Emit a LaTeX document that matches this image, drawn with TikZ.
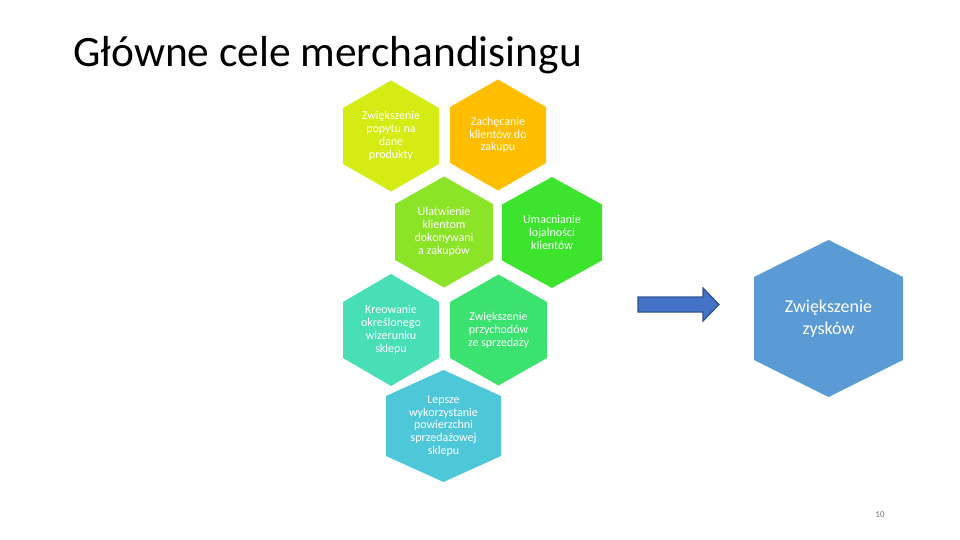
\documentclass[tikz,border=0pt]{standalone}
\usepackage{fontspec}
\setmainfont{Carlito}
\usepackage{tikz}

\definecolor{popytFill}{RGB}{212,236,20}
\definecolor{zachetaFill}{RGB}{255,190,0}
\definecolor{ulatwienieFill}{RGB}{140,228,40}
\definecolor{lojalnoscFill}{RGB}{60,228,45}
\definecolor{wizerunekFill}{RGB}{72,222,182}
\definecolor{przychodFill}{RGB}{60,226,112}
\definecolor{powierzchniaFill}{RGB}{78,200,216}
\definecolor{zyskFill}{RGB}{91,155,213}
\definecolor{arrowFill}{RGB}{68,114,196}
\definecolor{arrowLine}{RGB}{47,82,143}

\tikzset{
	hextext/.style = {text = white, align = center, inner sep = 0pt, font = \fontsize{12}{12.8}\selectfont},
	bigtext/.style = {text = white, align = center, inner sep = 0pt, font = \fontsize{18}{22}\selectfont}
}

% name, x, y, half width, half height, half side, colour, text
\newcommand{\hexcell}[8]{
	\begin{scope}[shift = {(#2,#3)}]
		\fill[#7] (0,-#5) -- (#4,-#6) -- (#4,#6) -- (0,#5) -- (-#4,#6) -- (-#4,-#6) -- cycle;
		\node[hextext] (#1) at (0,0) {#8};
	\end{scope}
}

\begin{document}
\begin{tikzpicture}[x = 1pt, y = -1pt]
					\useasboundingbox (0,0) rectangle (960,540);

					\node[anchor = base west, inner sep = 0pt, font = \fontsize{43.4}{50}\selectfont] (title) at (73,67) {Główne cele merchandisingu};

					\begin{scope}
						\hexcell{popyt}{391}{136}{48}{55.5}{28}{popytFill}{Zwiększenie\\popytu na\\dane\\produkty}
						\hexcell{zacheta}{498}{135}{48}{55.5}{28}{zachetaFill}{Zachęcanie\\klientów do\\zakupu}
						\hexcell{ulatwienie}{444}{232}{49}{55.5}{28}{ulatwienieFill}{Ułatwienie\\klientom\\dokonywani\\a zakupów}
						\hexcell{lojalnosc}{552}{232.5}{50}{55.5}{28}{lojalnoscFill}{Umacnianie\\lojalności\\klientów}
						\hexcell{wizerunek}{391}{330}{48}{56}{28}{wizerunekFill}{Kreowanie\\określonego\\wizerunku\\sklepu}
						\hexcell{przychod}{498.5}{330}{48.5}{55.5}{28}{przychodFill}{Zwiększenie\\przychodów\\ze sprzedaży}
						\hexcell{powierzchnia}{443.5}{426}{57.5}{56}{30}{powierzchniaFill}{Lepsze\\wykorzystanie\\powierzchni\\sprzedażowej\\sklepu}
					\end{scope}

					\begin{scope}[shift = {(828.5,318.5)}]
						\fill[zyskFill] (0,-78.5) -- (74.5,-41.5) -- (74.5,41.5) -- (0,78.5) -- (-74.5,41.5) -- (-74.5,-41.5) -- cycle;
						\node[bigtext] (zysk) at (0,0) {Zwiększenie\\zysków};
					\end{scope}

					\filldraw[fill = arrowFill, draw = arrowLine, line width = 1.2pt, line join = miter]
						(638,297) -- (703,297) -- (703,288) -- (719,304.5) -- (703,321) -- (703,312) -- (638,312) -- cycle;

					\node[text = black!55, font = \fontsize{9}{11}\selectfont] (strona) at (880,515) {10};
				\end{tikzpicture}
\end{document}
